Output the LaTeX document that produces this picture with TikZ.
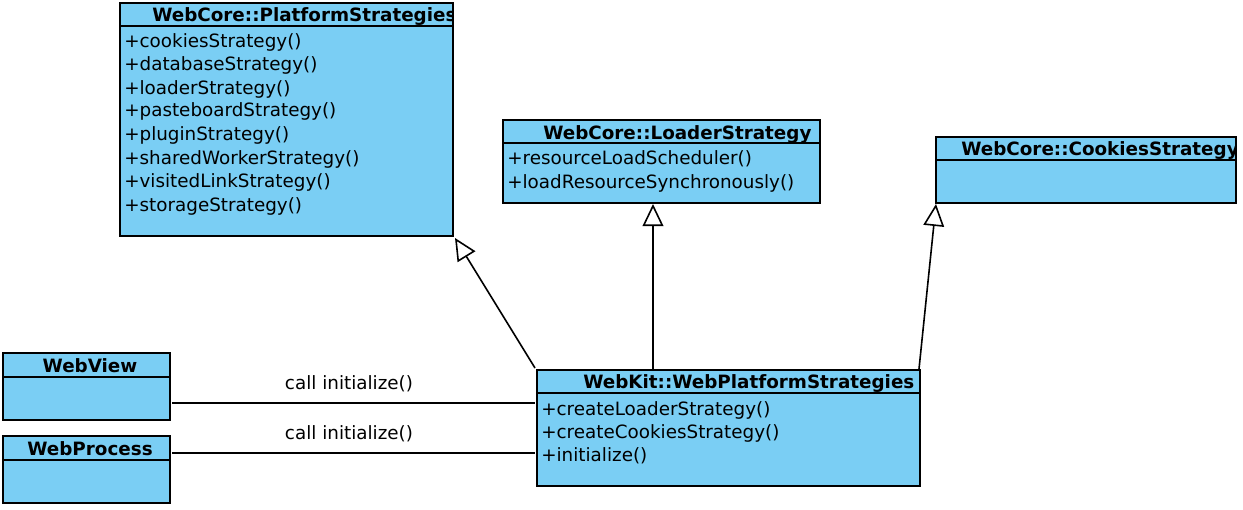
\documentclass[tikz,border=0pt]{standalone}
\usepackage{fontspec}
\setmainfont{DejaVu Sans}
\usetikzlibrary{arrows.meta}
\definecolor{boxblue}{HTML}{7ACEF4}
\begin{document}
\begin{tikzpicture}[x=0.75pt,y=-0.75pt,
  cls/.style={draw=black, fill=boxblue, line width=1.4pt, rectangle, inner sep=0pt, outer sep=0pt, anchor=north west},
  sep/.style={line width=1.4pt},
  ttl/.style={font=\bfseries\fontsize{13.75}{15}\selectfont, anchor=base west, inner sep=0pt},
  op/.style={font=\fontsize{13.75}{15}\selectfont, anchor=base west, inner sep=0pt},
  lbl/.style={font=\fontsize{13.75}{15}\selectfont, anchor=base, inner sep=0pt},
  gen/.style={-{Triangle[open,length=16.5pt,width=15.5pt]}, line width=1.2pt},
  assoc/.style={line width=1.2pt}]
\useasboundingbox (0,0) rectangle (1243,510);

% PlatformStrategies
\node[cls, minimum width=333*0.75pt, minimum height=233*0.75pt] (ps) at (120,3) {};
\draw[sep] (120,26) -- (453,26);
\begin{scope}\clip (120,3) rectangle (453,26);
\node[ttl] (pst) at (152,22) {WebCore::PlatformStrategies};
\end{scope}
\node[op] (ps1) at (124,48) {+cookiesStrategy()};
\node[op] (ps2) at (124,71) {+databaseStrategy()};
\node[op] (ps3) at (124,94) {+loaderStrategy()};
\node[op] (ps4) at (124,117) {+pasteboardStrategy()};
\node[op] (ps5) at (124,141) {+pluginStrategy()};
\node[op] (ps6) at (124,164) {+sharedWorkerStrategy()};
\node[op] (ps7) at (124,187) {+visitedLinkStrategy()};
\node[op] (ps8) at (124,211) {+storageStrategy()};

% LoaderStrategy
\node[cls, minimum width=317*0.75pt, minimum height=83*0.75pt] (ls) at (503,120) {};
\draw[sep] (503,143) -- (820,143);
\node[ttl] (lst) at (543,139) {WebCore::LoaderStrategy};
\node[op] (ls1) at (507,165) {+resourceLoadScheduler()};
\node[op] (ls2) at (507,188) {+loadResourceSynchronously()};

% CookiesStrategy
\node[cls, minimum width=300*0.75pt, minimum height=66*0.75pt] (cs) at (936,137) {};
\draw[sep] (936,160) -- (1236,160);
\begin{scope}\clip (936,137) rectangle (1236,160);
\node[ttl] (cst) at (961,156) {WebCore::CookiesStrategy};
\end{scope}

% WebView
\node[cls, minimum width=167*0.75pt, minimum height=67*0.75pt] (wv) at (3,353) {};
\draw[sep] (3,377) -- (170,377);
\node[ttl, anchor=base] (wvt) at (90,372) {WebView};

% WebProcess
\node[cls, minimum width=167*0.75pt, minimum height=67*0.75pt] (wp) at (3,436) {};
\draw[sep] (3,460) -- (170,460);
\node[ttl, anchor=base] (wpt) at (90,455) {WebProcess};

% WebPlatformStrategies
\node[cls, minimum width=383*0.75pt, minimum height=116*0.75pt] (wps) at (537,370) {};
\draw[sep] (537,393) -- (920,393);
\node[ttl] (wpst) at (583,388) {WebKit::WebPlatformStrategies};
\node[op] (wps1) at (541,415) {+createLoaderStrategy()};
\node[op] (wps2) at (541,438) {+createCookiesStrategy()};
\node[op] (wps3) at (541,461) {+initialize()};

% generalizations
\coordinate (g1s) at (535,368);
\coordinate (g1e) at (455,238);
\draw[gen] (g1s) -- (g1e);
\coordinate (g2s) at (653,369);
\coordinate (g2e) at (653,204);
\draw[gen] (g2s) -- (g2e);
\coordinate (g3s) at (919,369);
\coordinate (g3e) at (936,204);
\draw[gen] (g3s) -- (g3e);

% associations
\coordinate (a1) at (535,403);
\draw[assoc] (wv.east |- a1) ++(2,0) -- (a1);
\node[lbl] (l1) at (349,389) {call initialize()};
\coordinate (a2) at (535,453);
\draw[assoc] (wp.east |- a2) ++(2,0) -- (a2);
\node[lbl] (l2) at (349,439) {call initialize()};
\end{tikzpicture}
\end{document}
